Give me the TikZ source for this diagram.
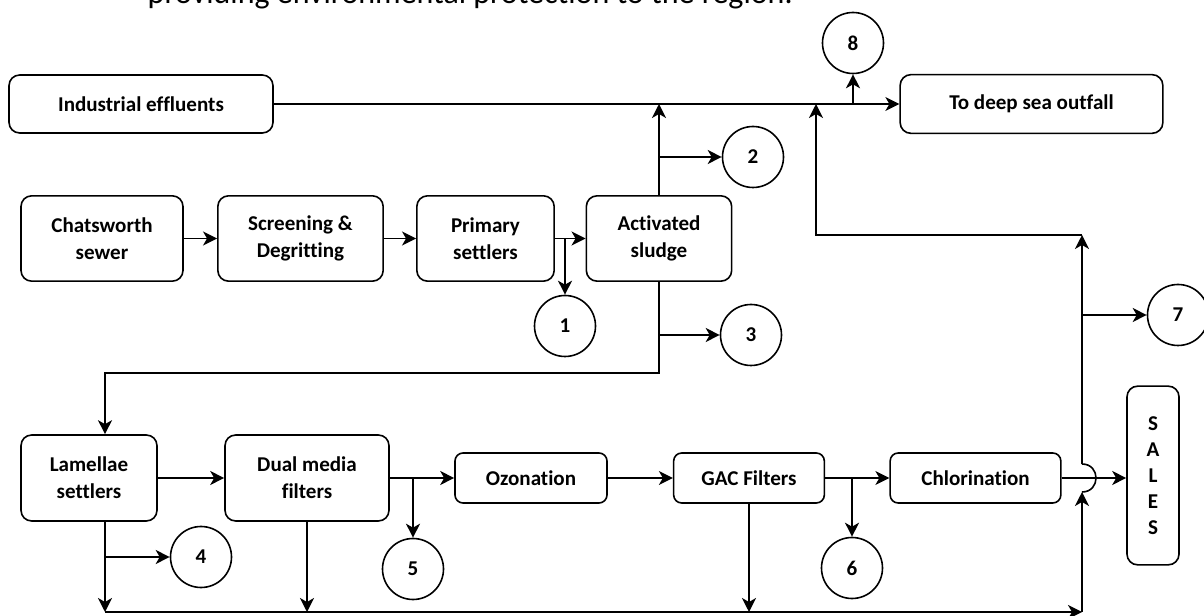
\documentclass[tikz,border=0pt]{standalone}
\usepackage{fontspec}
\setmainfont{Carlito}[Ligatures=NoCommon]
\usepackage{tikz}
\usetikzlibrary{shapes,arrows,positioning,calc,arrows.meta}

\begin{document}
\begin{tikzpicture}[x=0.75pt, y=-0.75pt,
    block/.style={draw, line width=1.2pt, rounded corners=8pt, align=center, inner sep=0pt,
        font=\bfseries\fontsize{15.8}{20.3}\selectfont},
    unit/.style={block, rounded corners=6pt, minimum height=37.5pt},
    outlet/.style={draw, circle, line width=1.2pt, minimum size=45.75pt, inner sep=0pt,
        font=\bfseries\fontsize{15.8}{19}\selectfont},
    flow/.style={line width=1.2pt, -{Stealth[length=10.5pt, width=10.5pt, inset=3pt]}},
    pipe/.style={line width=1.2pt}]
    \useasboundingbox (0,0) rectangle (1204,616);

    \node[anchor=base west, font=\fontsize{24}{28}\selectfont] (note) at (143,4) {providing environmental protection to the region.};

    % top row
    \node[block, minimum width=198pt, minimum height=43.5pt] (indus) at (141,104) {Industrial effluents};
    \node[block, minimum width=197pt, minimum height=44pt] (outfall) at (1031.5,104) {To deep sea outfall};

    % primary treatment
    \node[block, minimum width=121.5pt, minimum height=64pt] (chats) at (102,238.5) {Chatsworth\\sewer};
    \node[block, minimum width=124pt, minimum height=64pt] (screen) at (300.5,238.5) {Screening \&\\Degritting};
    \node[block, minimum width=103pt, minimum height=64pt] (primary) at (485.5,238.5) {Primary\\settlers};
    \node[block, minimum width=109pt, minimum height=64pt] (activ) at (659,238.5) {Activated\\sludge};

    % tertiary treatment
    \node[block, minimum width=102pt, minimum height=64.5pt] (lamel) at (89,478) {Lamellae\\settlers};
    \node[block, minimum width=123pt, minimum height=64.5pt] (dual) at (307,478) {Dual media\\filters};
    \node[unit, minimum width=114pt] (ozon) at (531,478) {Ozonation};
    \node[unit, minimum width=113pt] (gac) at (749,478) {GAC Filters};
    \node[unit, minimum width=128pt] (chlor) at (975.5,478) {Chlorination};
    \node[block, minimum width=39pt, minimum height=134pt, font=\bfseries\fontsize{15.8}{19.5}\selectfont] (sales) at (1153,475.5) {S\\A\\L\\E\\S};

    % outlets
    \node[outlet] (c1) at (565,326) {1};
    \node[outlet] (c2) at (753,157) {2};
    \node[outlet] (c3) at (751,335) {3};
    \node[outlet] (c4) at (201,557) {4};
    \node[outlet] (c5) at (413,569) {5};
    \node[outlet] (c6) at (852,568) {6};
    \node[outlet] (c7) at (1178,315) {7};
    \node[outlet] (c8) at (853,43) {8};

    \coordinate (feed) at (105,373);
    \coordinate (bl) at (105,612);
    \coordinate (br) at (1082,612);
    \coordinate (hopbot) at (1082,492);
    \coordinate (hoptop) at (1082,464);
    \coordinate (rt) at (1082,235);
    \coordinate (ret) at (816,104);

    % main flows
    \draw[flow] (indus.east) -- (outfall.west);
    \draw[flow] (c8 |- indus.east) -- (c8.south);
    \draw[flow] (chats.east) -- (screen.west);
    \draw[flow] (screen.east) -- (primary.west);
    \draw[flow] (primary.east) -- (activ.west);
    \draw[flow] (c1 |- primary.east) -- (c1.north);
    \draw[flow] (activ.north) -- (activ.north |- indus.east);
    \draw[flow] (activ.north |- c2) -- (c2.west);
    \draw[flow] (activ.south) |- (feed) -- (feed |- lamel.north);
    \draw[flow] (activ.south |- c3) -- (c3.west);

    \draw[flow] (lamel.east) -- (dual.west);
    \draw[flow] (dual.east) -- (ozon.west);
    \draw[flow] (c5 |- dual.east) -- (c5.north);
    \draw[flow] (ozon.east) -- (gac.west);
    \draw[flow] (gac.east) -- (chlor.west);
    \draw[flow] (c6 |- gac.east) -- (c6.north);
    \draw[flow] (chlor.east) -- (chlor.east -| sales.west);

    % backwash / bypass
    \draw[flow] (feed |- lamel.south) -- (bl);
    \draw[flow] (feed |- c4) -- (c4.west);
    \draw[flow] (dual.south) -- (dual.south |- bl);
    \draw[flow] (gac.south) -- (gac.south |- bl);
    \draw[flow] (bl) -- (br);
    \draw[flow] (br) -- (hopbot);
    \draw[pipe] (hopbot) .. controls +(18.7,0) and +(18.7,0) .. (hoptop);
    \draw[flow] (hoptop) -- (rt);
    \draw[flow] (rt) -| (ret);
    \draw[flow] (br |- c7) -- (c7.west);
\end{tikzpicture}
\end{document}
